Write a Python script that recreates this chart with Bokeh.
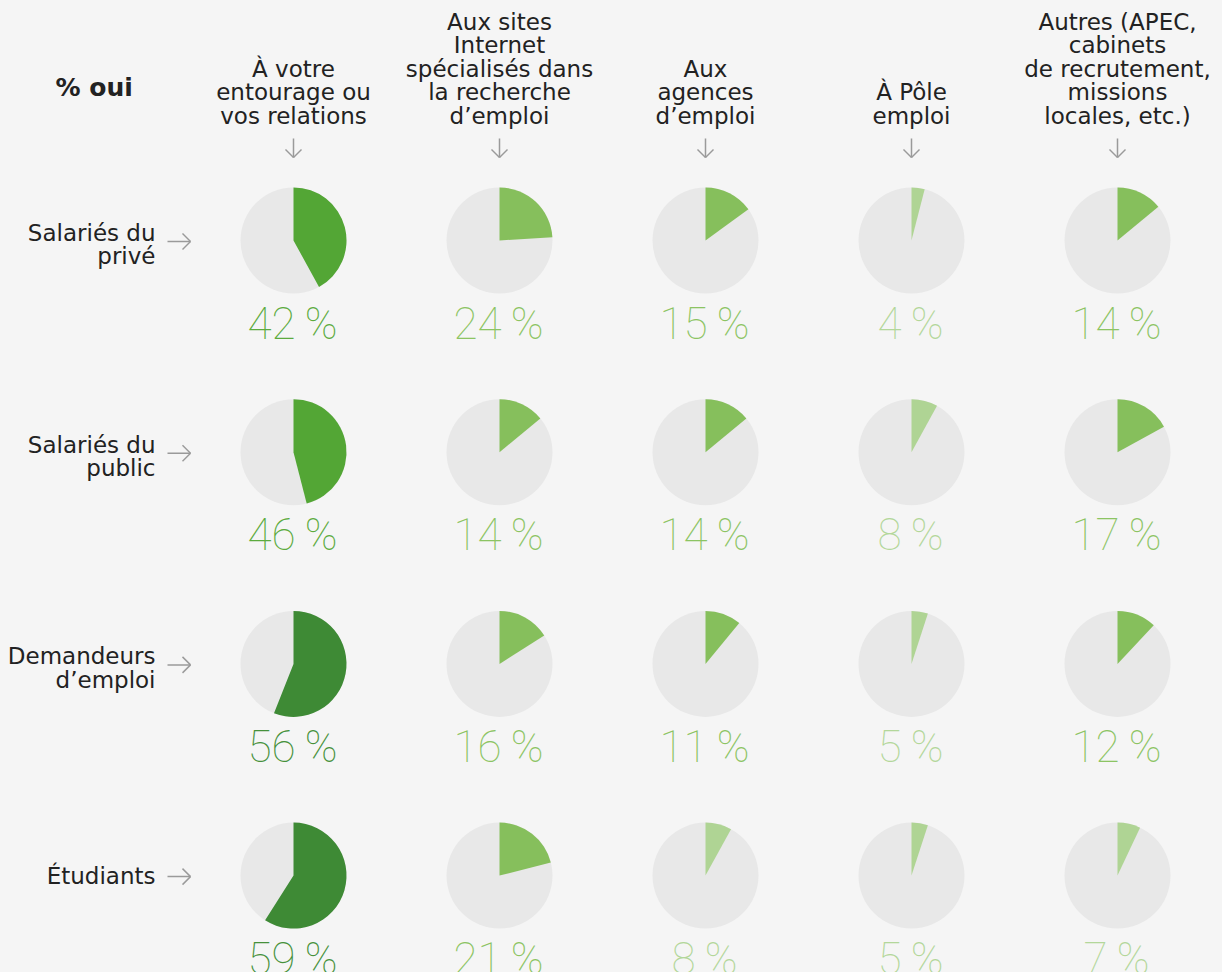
import numpy as np
from jinja2 import Template
from bokeh.plotting import figure
from bokeh.models import Range1d, ColumnDataSource
from bokeh.core.properties import value
from bokeh.embed import file_html
from bokeh.resources import INLINE

# ---------------- data ----------------
columns = [
    ["À votre", "entourage ou", "vos relations"],
    ["Aux sites", "Internet", "spécialisés dans", "la recherche", "d’emploi"],
    ["Aux", "agences", "d’emploi"],
    ["À Pôle", "emploi"],
    ["Autres (APEC,", "cabinets", "de recrutement,", "missions", "locales, etc.)"],
]
rows = [
    ["Salariés du", "privé"],
    ["Salariés du", "public"],
    ["Demandeurs", "d’emploi"],
    ["Étudiants"],
]
prive = [42, 24, 15, 4, 14]
public = [46, 14, 14, 8, 17]
demandeurs = [56, 16, 11, 5, 12]
etudiants = [59, 21, 8, 5, 7]
values = [prive, public, demandeurs, etudiants]
title = "% oui"

# ---------------- layout (image pixel coords, y down) ----------------
W, H = 1222, 972
col_x0, col_dx = 293, 206
row_y0, row_dy = 240, 211.7
R = 53
BG = "#f5f5f5"
PIE_BG = "#e8e8e8"
TXT = "#222222"
ARROW = "#9a9a9a"
FONT = "DejaVu Sans"
FS = "23px"


def Y(img_y):
    return H - img_y


def colour(v):
    if v >= 50:
        return "#3e8a35"
    if v >= 30:
        return "#53a635"
    if v >= 10:
        return "#86bf5c"
    return "#afd494"


def text_colour(v):
    if v >= 50:
        return "#46913b"
    if v >= 30:
        return "#5cab3e"
    if v >= 10:
        return "#8cc463"
    return "#b3d79a"


p = figure(width=W, height=H, output_backend="svg", toolbar_location=None,
           x_range=Range1d(0, W), y_range=Range1d(0, H),
           min_border=0, background_fill_color=BG, border_fill_color=BG,
           outline_line_color=None)
p.axis.visible = False
p.grid.visible = False

# pies
cx, cy, st, en, col = [], [], [], [], []
tx, ty, tt, tc = [], [], [], []
for r, rv in enumerate(values):
    for c, v in enumerate(rv):
        x = col_x0 + c * col_dx
        y = Y(row_y0 + r * row_dy)
        cx.append(x); cy.append(y)
        st.append(np.pi / 2 - v / 100 * 2 * np.pi)
        en.append(np.pi / 2)
        col.append(colour(v))
        tx.append(x - 1); ty.append(Y(row_y0 + r * row_dy + 83))
        tt.append(f"{v}\u2009%"); tc.append(text_colour(v))

src = ColumnDataSource(dict(x=cx, y=cy, s=st, e=en, c=col))
p.circle(x="x", y="y", radius=R, source=src, fill_color=PIE_BG, line_color=None)
p.wedge(x="x", y="y", radius=R, start_angle="s", end_angle="e", source=src,
        fill_color="c", line_color=None)

p.text(x=tx, y=ty, text=tt, text_color=tc, text_font=value("Roboto Thin"),
       text_font_size="44px", text_align="center", text_baseline="alphabetic")

# column headers
hx, hy, ht = [], [], []
line_h = 23.4
for c, lines in enumerate(columns):
    n = len(lines)
    for i, ln in enumerate(lines):
        hx.append(col_x0 + c * col_dx)
        hy.append(Y(115 - (n - 1 - i) * line_h))
        ht.append(ln)
p.text(x=hx, y=hy, text=ht, text_color=TXT, text_font=value(FONT),
       text_font_size=FS, text_align="center", text_baseline="middle")

# down arrows
ax = [col_x0 + c * col_dx for c in range(len(columns))]
p.segment(x0=ax, y0=[Y(138)] * len(ax), x1=ax, y1=[Y(157)] * len(ax),
          line_color=ARROW, line_width=1.5)
p.segment(x0=[a - 8 for a in ax], y0=[Y(149)] * len(ax), x1=ax, y1=[Y(157)] * len(ax),
          line_color=ARROW, line_width=1.5)
p.segment(x0=[a + 8 for a in ax], y0=[Y(149)] * len(ax), x1=ax, y1=[Y(157)] * len(ax),
          line_color=ARROW, line_width=1.5)

# row labels
rx, ry, rt = [], [], []
for r, lines in enumerate(rows):
    n = len(lines)
    yc = row_y0 + r * row_dy + (4 if n > 1 else 0)
    for i, ln in enumerate(lines):
        rx.append(155)
        ry.append(Y(yc + (i - (n - 1) / 2) * line_h))
        rt.append(ln)
p.text(x=rx, y=ry, text=rt, text_color=TXT, text_font=value(FONT),
       text_font_size=FS, text_align="right", text_baseline="middle")

# right arrows
ay = [Y(row_y0 + r * row_dy + 1) for r in range(len(rows))]
p.segment(x0=[167] * len(ay), y0=ay, x1=[190] * len(ay), y1=ay,
          line_color=ARROW, line_width=1.5)
p.segment(x0=[182] * len(ay), y0=[a + 8 for a in ay], x1=[190] * len(ay), y1=ay,
          line_color=ARROW, line_width=1.5)
p.segment(x0=[182] * len(ay), y0=[a - 8 for a in ay], x1=[190] * len(ay), y1=ay,
          line_color=ARROW, line_width=1.5)

# title
p.text(x=[55], y=[Y(87)], text=[title], text_color=TXT, text_font=value(FONT),
       text_font_size="25px", text_font_style="bold", text_align="left",
       text_baseline="middle")

tmpl = Template("""{% extends base %}
{% block preamble %}<style>body{background:#f5f5f5;margin:0;}</style>{% endblock %}""")
try:
    html = file_html(p, INLINE, template=tmpl)
except Exception:
    html = file_html(p, INLINE)
open("out.html", "w").write(html)
